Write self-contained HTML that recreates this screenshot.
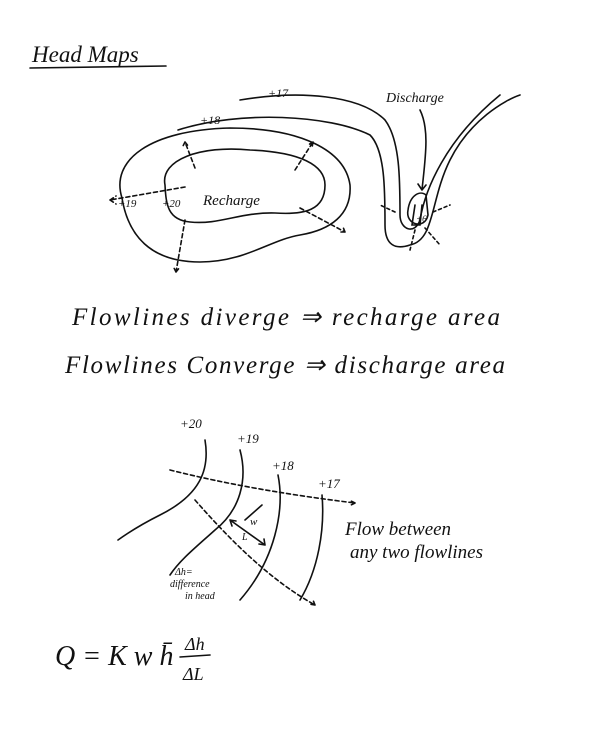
<!DOCTYPE html>
<html><head><meta charset="utf-8"><style>
html,body{margin:0;padding:0;background:#fff;}
svg{display:block}
text{font-family:"Liberation Serif",serif;font-style:italic;fill:#111}
</style></head><body>
<svg width="604" height="755" viewBox="0 0 604 755" xmlns="http://www.w3.org/2000/svg">
<rect width="604" height="755" fill="#fff"/>
<g fill="none" stroke="#111" stroke-width="1.6" stroke-linecap="round">
<text x="32" y="62" font-size="23" stroke="none">Head Maps</text>
<path d="M30 68 L166 66"/>
<path d="M165 185 C160 160 200 145 250 150 C300 152 325 165 325 185 C325 210 305 215 275 213 C240 212 220 225 190 222 C168 220 166 205 165 185 Z"/>
<path d="M122 198 C110 160 150 130 230 128 C300 128 345 150 350 185 C352 215 330 230 300 235 C270 240 245 262 200 262 C150 262 128 235 122 198 Z"/>
<path stroke-dasharray="4 3" d="M185 187 L110 200 M110 200 l6 -4 M110 200 l6 4"/>
<path stroke-dasharray="4 3" d="M195 168 L185 142 M185 142 l-3 6 M185 142 l4 5"/>
<path stroke-dasharray="4 3" d="M295 170 L313 142 M313 142 l-1 6 M313 142 l-5 3"/>
<path stroke-dasharray="4 3" d="M300 208 L345 232 M345 232 l-6 0 M345 232 l-2 -5"/>
<path stroke-dasharray="4 3" d="M185 220 L176 272 M176 272 l-3 -6 M176 272 l4 -5"/>
<path d="M240 100 C300 90 360 95 385 120 C400 140 400 180 400 215 C400 230 415 235 420 220 C425 190 445 140 500 95"/>
<path d="M178 130 C240 110 330 115 370 135 C385 150 385 190 385 225 C385 245 395 250 410 245 C435 240 430 200 450 160 C470 120 505 100 520 95"/>
<path d="M408 210 C405 225 425 230 428 215 L426 195 C420 190 410 195 408 210 Z"/>
<path d="M415 205 L412 225 L420 225 L422 205"/>
<path d="M420 110 C430 130 425 160 422 190 M422 190 l-4 -6 M422 190 l4 -5"/>
<path stroke-dasharray="3 3" d="M395 212 L380 205 M433 212 L450 205 M415 230 L410 250 M425 228 L440 245"/>
</g>
<g stroke="none">
<text x="268" y="97" font-size="12">+17</text>
<text x="200" y="124" font-size="12">+18</text>
<text x="386" y="102" font-size="14">Discharge</text>
<text x="118" y="207" font-size="11">+19</text>
<text x="162" y="207" font-size="11">+20</text>
<text x="203" y="205" font-size="15">Recharge</text>
<text x="416" y="222" font-size="9">+6</text>
<text x="72" y="325" font-size="25" textLength="428" lengthAdjust="spacing">Flowlines diverge ⇒ recharge   area</text>
<text x="65" y="373" font-size="25" textLength="440" lengthAdjust="spacing">Flowlines Converge ⇒ discharge  area</text>
<text x="180" y="428" font-size="13">+20</text>
<text x="237" y="443" font-size="13">+19</text>
<text x="272" y="470" font-size="13">+18</text>
<text x="318" y="488" font-size="13">+17</text>
<text x="345" y="535" font-size="19">Flow between</text>
<text x="350" y="558" font-size="19">any two flowlines</text>
<text x="175" y="575" font-size="10">Δh=</text>
<text x="170" y="587" font-size="10">difference</text>
<text x="185" y="599" font-size="10">in head</text>
<text x="250" y="525" font-size="11">w</text>
<text x="242" y="540" font-size="10">L</text>
<text x="55" y="665" font-size="28">Q = K w h̄</text>
<text x="185" y="650" font-size="18">Δh</text>
<text x="183" y="680" font-size="18">ΔL</text>
</g>
<g fill="none" stroke="#111" stroke-width="1.6" stroke-linecap="round">
<path d="M180 657 L210 655"/>
<path d="M205 440 C210 470 200 495 160 515 C140 525 125 535 118 540"/>
<path d="M240 450 C248 480 240 510 215 530 C195 548 180 560 170 575"/>
<path d="M278 475 C285 510 275 560 240 600"/>
<path d="M322 495 C325 530 318 570 300 600"/>
<path stroke-dasharray="4 3" d="M170 470 C230 485 290 495 355 503 M355 503 l-6 -3 M355 503 l-6 3"/>
<path stroke-dasharray="4 3" d="M195 500 C230 540 270 580 315 605 M315 605 l-6 -1 M315 605 l-2 -5"/>
<path d="M230 520 L265 545 M230 520 l2 6 M230 520 l6 1 M265 545 l-6 -1 M265 545 l-1 -6"/>
<path d="M245 520 L262 505"/>
</g>
</svg>
</body></html>
